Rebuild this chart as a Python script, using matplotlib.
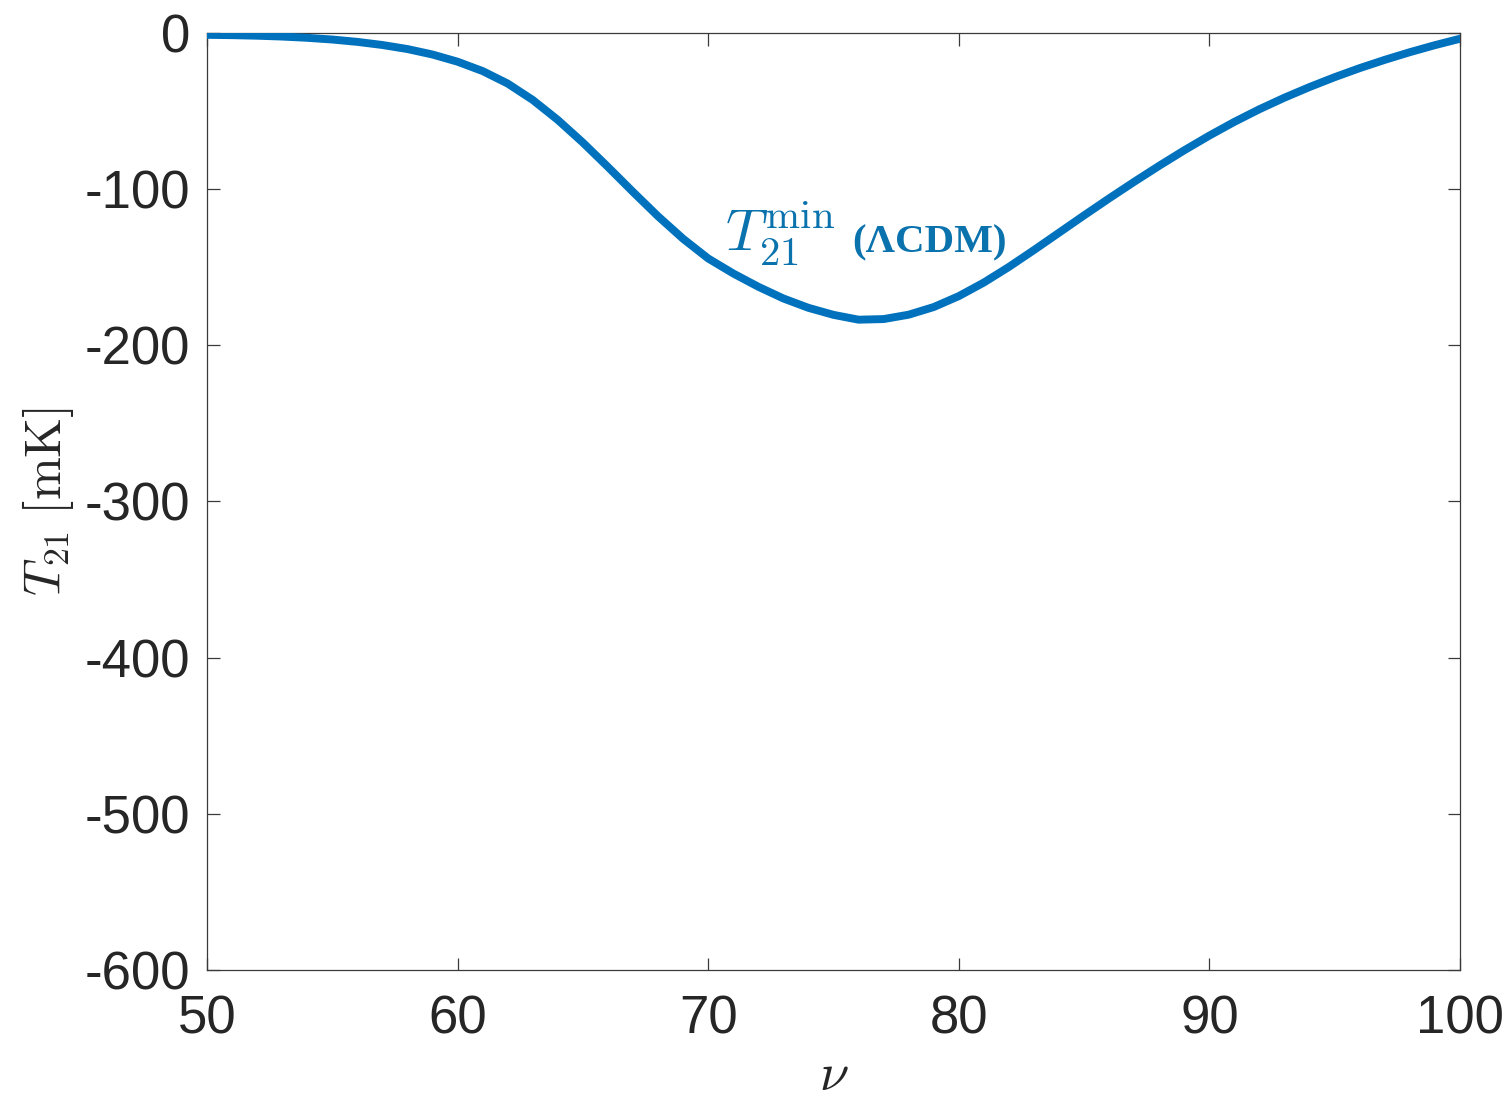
import numpy as np
import matplotlib
matplotlib.use("Agg")
import matplotlib.pyplot as plt

# Data
nu = list(range(50, 101))
T21 = [-1.2, -1.4, -1.75, -2.3, -3.1, -4.2, -5.7, -7.7, -10.3, -13.8,
       -18.4, -24.4, -32.4, -42.9, -55.7, -70.2, -85.8, -101.8, -117.4, -131.8,
       -144.4, -154.0, -162.5, -170.0, -176.0, -180.5, -183.6, -183.2, -180.4, -175.5,
       -168.5, -159.8, -149.8, -139.0, -127.9, -116.8, -105.9, -95.3, -85.0, -75.1,
       -65.7, -56.9, -48.8, -41.4, -34.6, -28.3, -22.5, -17.2, -12.3, -7.8,
       -3.7]
xticks = [50, 60, 70, 80, 90, 100]
yticks = [0, -100, -200, -300, -400, -500, -600]
ytick_labels = ["0", "-100", "-200", "-300", "-400", "-500", "-600"]

plt.rcParams['mathtext.fontset'] = 'cm'
plt.rcParams['font.family'] = ['Liberation Sans', 'DejaVu Sans']

fig = plt.figure(figsize=(15.12, 10.99), dpi=100)
ax = fig.add_axes([0.1369, 0.1174, 0.9656 - 0.1369, 0.970 - 0.1174])

line_color = '#0072BD'
ax.plot(nu, T21, color=line_color, lw=5.7, solid_joinstyle='round', zorder=3)

ax.set_xlim(50, 100)
ax.set_ylim(-600, 0)
ax.set_xticks(xticks)
ax.set_xticklabels([str(v) for v in xticks])
ax.set_yticks(yticks)
ax.set_yticklabels(ytick_labels)

spine_color = '#3a3a3a'
for s in ax.spines.values():
    s.set_color(spine_color)
    s.set_linewidth(0.9)
ax.tick_params(direction='in', length=9, width=0.9, color=spine_color,
               top=True, right=True, labelsize=38, labelcolor='#262626')
ax.tick_params(axis='x', pad=18)
ax.tick_params(axis='y', pad=12)

ax.set_xlabel(r'$\nu$', fontsize=38, color='#262626', labelpad=4)
ax.set_ylabel(r'$T_{21}\;[\mathrm{mK}]$', fontsize=37, color='#262626', labelpad=6)

text_color = '#0a72ad'
ax.text(70.67, -139.5, r'$T_{21}^{\mathrm{min}}$', fontsize=42, color=text_color,
        ha='left', va='baseline')
ax.text(75.74, -140.5, '(ΛCDM)', fontsize=29.5, color=text_color, fontweight='bold',
        family=['Liberation Serif', 'DejaVu Serif'], ha='left', va='baseline')

fig.savefig('out.png', dpi=100)
